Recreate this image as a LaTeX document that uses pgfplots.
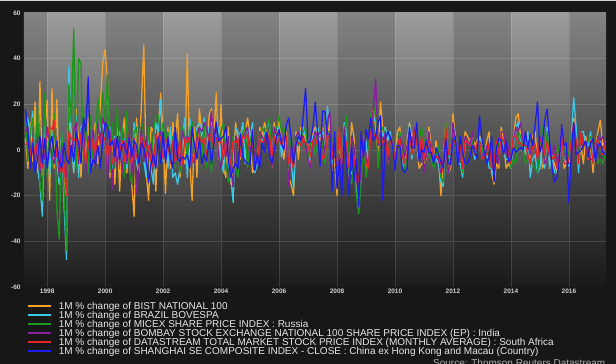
\documentclass[border=0pt]{standalone}
\usepackage{pgfplots}
\pgfplotsset{compat=1.18}
\usepackage{pgfplotstable}
\usepackage{fontspec}
\setmainfont{Liberation Sans}
\definecolor{bgdark}{HTML}{171717}
\definecolor{topline}{HTML}{D8D8D8}
\definecolor{tickcol}{HTML}{CFCFCF}
\definecolor{legtext}{HTML}{E6E6E6}
\definecolor{srccol}{HTML}{B0B0B0}
\definecolor{sOrange}{HTML}{F2A22A}
\definecolor{sCyan}{HTML}{3CC6E4}
\definecolor{sGreen}{HTML}{1E961E}
\definecolor{sPurple}{HTML}{86209A}
\definecolor{sRed}{HTML}{E4262A}
\definecolor{sBlue}{HTML}{1E1EEA}
\definecolor{bandLtop}{HTML}{9C9C9C}
\definecolor{bandLbot}{HTML}{1C1C1C}
\definecolor{bandDtop}{HTML}{838383}
\definecolor{bandDbot}{HTML}{191919}
\pgfplotstableread{
o c g p r b
5 10 12 8 2 18
-8 14 -5 10 4 8
12 6 8 -6 -3 -8
-5 17 14 4 5 3
21 -6 -10 -8 -2 -10
-10 -8 20 6 3 -4
30 -15 -15 -10 -6 6
-12 -29 -22 5 -8 -6
8 10 25 -4 4 5
22 8 -12 10 6 -8
-22 -12 10 4 10 2
27 5 -8 -3 9 6
-8 10 16 -6 13 -3
22 -5 -26 3 -3 4
-15 -15 -39 -12 -6 -5
6 8 8 2 -10 -8
-14 -25 -18 -8 -6 3
-20 -48 -44 -12 -20 -4
12 37 29 6 8 -6
8 5 12 -4 5 2
-10 -10 53 8 4 -5
18 15 -8 12 6 8
5 -12 40 -6 -4 3
-12 10 38 8 7 -6
10 12 -5 11 3 14
-5 -8 20 -10 -6 8
14 6 -10 6 4 32
-8 -4 15 -5 -3 -10
6 8 -8 9 5 -4
12 -6 5 -8 -2 -6
-6 10 23 12 6 2
20 8 10 4 3 -8
38 12 25 14 7 4
44 5 12 10 4 12
30 -8 33 -13 -3 10
-12 10 -10 9 5 2
8 -12 12 -17 -6 4
-15 6 -8 5 -4 -3
10 -6 19 -8 3 6
-18 8 -5 6 -2 -4
6 -10 10 -10 4 2
14 5 -12 4 -5 3
-10 -8 17 -6 3 -2
8 4 -8 8 -4 5
-15 -10 -15 -12 -6 -3
-29 12 8 5 5 4
14 -6 10 -19 -3 2
-6 -10 -6 -8 -7 -6
20 8 12 10 6 3
46 -5 5 -5 4 1
-10 -12 -5 6 -3 -4
-22 6 10 -4 2 -14
10 -8 -6 3 -5 -6
8 -15 8 -8 -8 -2
-18 12 15 6 7 -8
10 8 15 5 3 5
25 22 6 8 6 -6
6 -5 12 3 -4 8
-19 4 4 -3 5 -6
10 -8 8 6 3 5
-8 10 -4 -4 -6 -3
12 -12 6 2 4 -8
5 -10 -8 -6 -5 10
16 -15 5 4 -3 -4
-12 -8 -10 -7 4 -5
8 6 10 8 -6 -3
-6 14 6 4 5 -4
42 -12 -4 6 3 -2
-5 14 8 4 6 -8
-22 8 12 -4 -5 10
10 -4 -6 -6 -3 2
-12 10 8 5 4 -4
18 12 10 10 6 5
8 6 -5 8 3 -6
10 14 12 12 5 -2
-6 -5 -8 10 -3 -5
15 10 5 4 6 4
18 12 -10 17 7 -6
5 8 6 6 2 3
25 6 10 12 5 12
-4 10 4 -3 4 4
20 -5 8 -8 3 5
-8 -10 12 4 -4 6
-12 8 -6 -3 5 10
10 -6 -14 6 -3 -4
-15 -12 -10 -8 -6 -12
-8 -23 6 -16 4 -8
12 10 -8 6 3 -6
5 8 -12 4 5 -8
-4 6 5 2 -3 7
10 12 8 6 6 -3
8 -6 10 8 5 -5
14 10 -8 10 7 -6
6 4 4 -2 -3 -6
-10 12 8 5 4 9
-8 -10 -6 -4 -3 -9
-6 -6 -5 -6 -6 -2
10 5 6 8 5 -8
6 4 10 6 3 3
12 8 8 4 5 -1
8 10 10 6 3 8
6 12 14 5 7 -2
-8 -5 -6 -8 -4 -6
12 8 8 10 6 0
4 6 10 6 3 6
15 10 15 8 5 9
2 -3 8 4 2 3
-4 4 10 6 4 0
8 6 5 5 6 11
-12 -8 -8 -16 -6 14
-15 -5 6 2 -4 5
-20 -17 -6 -4 -8 -6
8 5 6 6 4 2
-4 4 2 8 3 6
10 8 5 5 2 4
8 10 8 6 5 15
4 6 10 2 3 27
5 2 -5 -4 2 3
-6 -4 4 -8 -3 4
8 6 2 4 4 10
10 8 -2 8 5 21
6 10 4 6 2 7
4 6 -4 8 3 -7
10 8 5 6 -4 17
-4 -2 -6 -2 -3 17
6 19 8 12 6 7
12 12 8 17 5 7
-10 -6 4 -4 -3 -18
-4 2 4 6 2 8
-20 -8 -12 -16 -8 -17
4 8 4 -2 10 -4
-10 -5 -4 -10 -6 -20
10 12 8 10 5 6
-6 8 15 -5 3 -7
-16 -12 -10 -18 -8 -20
12 -10 -15 6 -4 2
6 -8 -6 2 -3 -14
-16 -18 -20 -12 -12 -4
-22 -22 -28 -20 -14 -25
-8 -6 -14 -6 2 8
4 6 6 4 6 -3
-8 4 -12 -3 -6 9
-4 -6 -4 -6 -8 5
12 12 16 8 8 14
18 15 14 18 6 4
10 12 20 31 7 6
-2 2 -8 2 3 12
21 10 8 8 6 15
8 6 10 2 3 -22
10 10 6 8 5 5
-6 4 -4 -6 -3 8
6 8 6 6 4 6
4 2 4 3 3 2
-6 -8 -4 -6 -4 -9
8 4 2 2 2 2
10 6 8 6 5 2
-4 -6 2 2 -3 -8
-8 -8 -10 -3 -6 -10
4 -2 -4 2 -2 -8
12 12 8 8 8 10
6 -4 -2 2 -2 1
8 10 8 10 8 1
4 4 6 4 3 12
-8 -4 4 -4 -2 -5
-6 4 10 4 6 0
-6 -4 4 -10 -4 -1
-4 2 4 -2 2 4
10 6 -2 8 4 -1
2 2 -4 -2 3 -1
-6 -6 -8 -4 -4 -6
4 -4 -2 -3 -3 1
-2 -6 2 -4 -3 -2
-20 -14 -12 -10 -6 -5
-6 -16 -14 -4 -10 -8
12 10 12 4 10 5
-10 -2 -4 -10 -2 -6
-8 -4 -6 -6 2 -6
16 12 10 12 4 4
6 6 4 4 3 6
-4 -6 -4 -2 -2 -7
-2 -6 -2 -2 3 6
-10 -12 -10 -8 -8 -1
8 2 4 6 4 -6
6 4 2 2 4 -6
4 2 2 2 2 -3
6 4 4 8 2 2
2 -4 -2 -2 -2 -1
4 -2 -2 2 3 -4
6 6 4 2 4 15
4 -2 2 -2 -4 5
-2 -4 -4 -4 -3 -1
4 -2 -4 2 -2 -6
8 -8 -4 2 3 -3
-10 -8 -6 -4 -8 6
-15 -13 -8 -10 -6 -14
-6 2 4 -2 4 1
-8 4 2 -6 -2 5
10 6 4 8 6 4
4 -2 4 8 4 -2
-8 -4 -2 -2 2 4
-6 -4 -2 2 -2 -5
-8 -8 -8 -4 -6 -4
4 2 -4 4 6 1
14 10 -6 10 6 -1
16 12 8 8 3 0
6 4 6 12 3 1
2 4 2 4 2 0
2 -2 -6 2 2 8
-2 8 -4 2 -2 1
-6 -12 -4 -2 -6 7
6 -4 -6 4 2 2
8 -2 -8 2 2 11
-4 -10 -10 -4 -4 21
4 -8 2 6 4 -1
-8 4 10 2 4 3
-6 -8 -4 -6 -2 13
8 10 8 -4 4 18
-6 -8 -2 2 -2 4
-4 -2 -4 -2 -4 -7
-6 -10 -2 2 -2 -14
-10 -10 -4 -6 -8 -12
-2 -6 2 -2 -4 -5
10 6 6 4 8 11
-8 -4 -2 -2 -6 2
-6 -6 2 -2 -6 3
-2 -7 -4 -6 -4 -23
4 6 6 -6 4 -2
14 23 10 10 12 12
4 10 4 2 4 -2
-6 -10 -2 2 -6 -1
2 8 4 2 8 0
-6 8 2 4 2 2
6 2 2 2 2 4
-4 2 4 -2 -4 -3
2 8 6 -4 4 3
-10 -6 4 -4 -6 5
2 -2 4 -2 4 -5
8 6 -6 6 4 2
13 4 -4 4 2 3
2 -2 -6 6 -2 -1
4 2 -2 2 2 -2
}\data
\begin{document}
\begin{tikzpicture}
\useasboundingbox (0pt,0pt) rectangle (616pt,364pt);
\fill[bgdark] (0pt,0pt) rectangle (616pt,364pt);
\fill[topline] (0pt,362.8pt) rectangle (616pt,364pt);
\begin{axis}[
  at={(24pt,77pt)}, anchor=south west,
  width=582pt, height=274pt, scale only axis,
  xmin=1997.2, xmax=2017.28, ymin=-60, ymax=60,
  axis line style={draw=none},
  major tick length=0pt,
  xtick={1998,2000,...,2016},
  ytick={-60,-40,...,60},
  /pgf/number format/assume math mode=true,
  /pgf/number format/1000 sep={},
  tick label style={font=\fontsize{6.5}{7}\selectfont\bfseries, text=tickcol, inner sep=0pt},
  yticklabel style={xshift=-3.3pt},
  xticklabel style={yshift=-2pt},
  legend style={at={(axis description cs:0.0052,-0.057)}, anchor=north west,
    draw=none, fill=none, inner sep=0pt, row sep=0pt,
    font=\fontsize{10}{9}\selectfont, text=legtext,
    nodes={inner sep=0pt, text height=6.6pt, text depth=2.4pt},
    /tikz/every odd column/.append style={column sep=7pt}},
  legend cell align=left,
  legend image code/.code={\draw[#1, line width=1.6pt] (0pt,1.2pt) -- (23pt,1.2pt);},
  every axis plot/.append style={line width=1.3pt, line join=round, mark=none},
]
\shade[top color=bandDtop, bottom color=bandDbot] (axis cs:1997.2,-60) rectangle (axis cs:1998,60);
\shade[top color=bandLtop, bottom color=bandLbot] (axis cs:1998,-60) rectangle (axis cs:2000,60);
\shade[top color=bandDtop, bottom color=bandDbot] (axis cs:2000,-60) rectangle (axis cs:2002,60);
\shade[top color=bandLtop, bottom color=bandLbot] (axis cs:2002,-60) rectangle (axis cs:2004,60);
\shade[top color=bandDtop, bottom color=bandDbot] (axis cs:2004,-60) rectangle (axis cs:2006,60);
\shade[top color=bandLtop, bottom color=bandLbot] (axis cs:2006,-60) rectangle (axis cs:2008,60);
\shade[top color=bandDtop, bottom color=bandDbot] (axis cs:2008,-60) rectangle (axis cs:2010,60);
\shade[top color=bandLtop, bottom color=bandLbot] (axis cs:2010,-60) rectangle (axis cs:2012,60);
\shade[top color=bandDtop, bottom color=bandDbot] (axis cs:2012,-60) rectangle (axis cs:2014,60);
\shade[top color=bandLtop, bottom color=bandLbot] (axis cs:2014,-60) rectangle (axis cs:2016,60);
\shade[top color=bandDtop, bottom color=bandDbot] (axis cs:2016,-60) rectangle (axis cs:2017.28,60);
\draw[white, opacity=0.13, line width=0.6pt]
  (axis cs:1997.2,-40) -- (axis cs:2017.28,-40)
  (axis cs:1997.2,-20) -- (axis cs:2017.28,-20)
  (axis cs:1997.2,0) -- (axis cs:2017.28,0)
  (axis cs:1997.2,20) -- (axis cs:2017.28,20)
  (axis cs:1997.2,40) -- (axis cs:2017.28,40)
  (axis cs:1998,-60) -- (axis cs:1998,60)
  (axis cs:2000,-60) -- (axis cs:2000,60)
  (axis cs:2002,-60) -- (axis cs:2002,60)
  (axis cs:2004,-60) -- (axis cs:2004,60)
  (axis cs:2006,-60) -- (axis cs:2006,60)
  (axis cs:2008,-60) -- (axis cs:2008,60)
  (axis cs:2010,-60) -- (axis cs:2010,60)
  (axis cs:2012,-60) -- (axis cs:2012,60)
  (axis cs:2014,-60) -- (axis cs:2014,60)
  (axis cs:2016,-60) -- (axis cs:2016,60);
\addplot[sOrange] table[x expr=1997.25+\coordindex/12, y=o]{\data};
\addlegendentry{1M \% change of BIST NATIONAL 100}
\addplot[sCyan] table[x expr=1997.25+\coordindex/12, y=c]{\data};
\addlegendentry{1M \% change of BRAZIL BOVESPA}
\addplot[sGreen] table[x expr=1997.25+\coordindex/12, y=g]{\data};
\addlegendentry{1M \% change of MICEX SHARE PRICE INDEX : Russia}
\addplot[sPurple] table[x expr=1997.25+\coordindex/12, y=p]{\data};
\addlegendentry{1M \% change of BOMBAY STOCK EXCHANGE NATIONAL 100 SHARE PRICE INDEX (EP) : India}
\addplot[sRed] table[x expr=1997.25+\coordindex/12, y=r]{\data};
\addlegendentry{1M \% change of DATASTREAM TOTAL MARKET STOCK PRICE INDEX (MONTHLY AVERAGE) : South Africa}
\addplot[sBlue] table[x expr=1997.25+\coordindex/12, y=b]{\data};
\addlegendentry{1M \% change of SHANGHAI SE COMPOSITE INDEX - CLOSE : China ex Hong Kong and Macau (Country)}
\end{axis}
\node[anchor=base west, inner sep=0pt, font=\fontsize{10}{9}\selectfont, text=srccol] at (433pt,-2.8pt) {Source: Thomson Reuters Datastream};
\end{tikzpicture}
\end{document}
